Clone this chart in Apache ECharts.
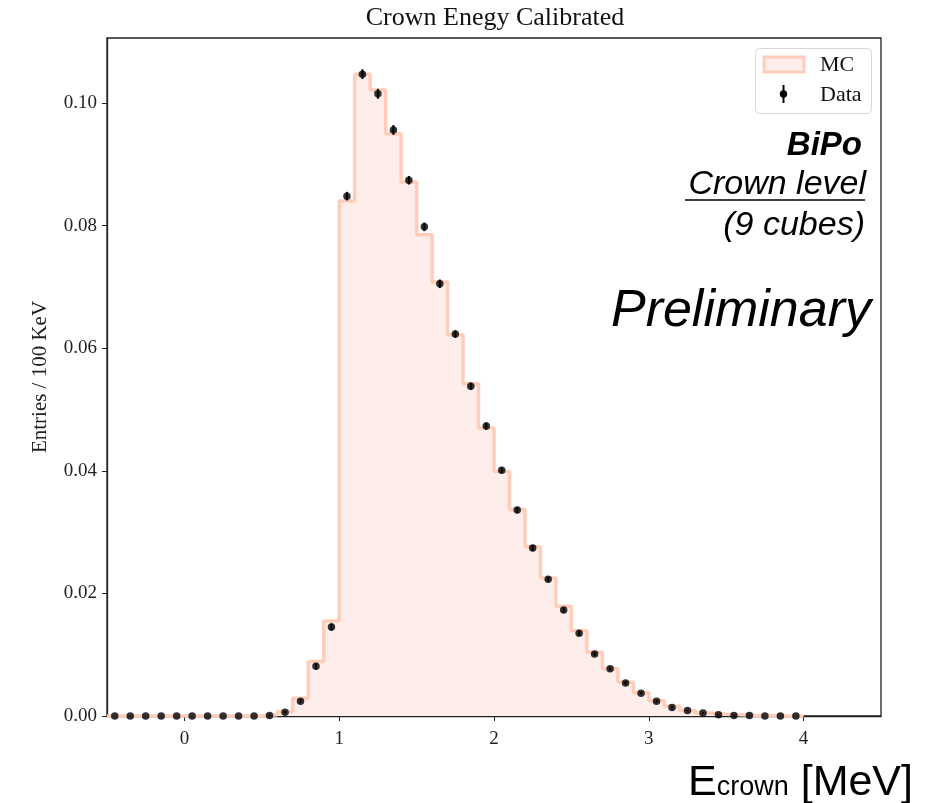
<!DOCTYPE html>
<html>
<head>
<meta charset="utf-8">
<script src="https://cdn.jsdelivr.net/npm/echarts@6/dist/echarts.min.js"></script>
<style>html,body{margin:0;padding:0;background:#fff}#c{width:935px;height:803px}</style>
</head>
<body>
<div id="c"></div>
<script>
// Bin edges (MeV), 45 bins of 0.1 MeV
var binEdges = [-0.5,-0.4,-0.3,-0.2,-0.1,0.0,0.1,0.2,0.3,0.4,0.5,0.6,0.7,0.8,0.9,1.0,1.1,1.2,1.3,1.4,1.5,1.6,1.7,1.8,1.9,2.0,2.1,2.2,2.3,2.4,2.5,2.6,2.7,2.8,2.9,3.0,3.1,3.2,3.3,3.4,3.5,3.6,3.7,3.8,3.9,4.0];
// MC histogram contents (Entries / 100 keV)
var mcValues = [0,0,0,0,0,0,0,0,0,0,
  0.0002,0.0007,0.0029,0.0089,0.0155,0.0840,0.1047,0.1021,0.0950,0.0871,
  0.0785,0.0708,0.0622,0.0542,0.0470,0.0399,0.0337,0.0276,0.0225,0.0179,
  0.0139,0.0104,0.0077,0.0055,0.0038,0.0025,0.0016,0.0009,0.0005,0.0003,
  0.0002,0.0001,0.0001,0,0];
// Data points (bin centres)
var dataValues = [0,0,0,0,0,0,0,0,0,0,
  0.0001,0.0006,0.0024,0.0081,0.0145,0.0848,0.1047,0.1015,0.0956,0.0874,
  0.0798,0.0705,0.0623,0.0538,0.0473,0.0401,0.0336,0.0274,0.0223,0.0173,
  0.0135,0.0101,0.0077,0.0054,0.0037,0.0024,0.0014,0.0009,0.0005,0.0002,
  0.0001,0.0001,0,0,0];
var dataErrors = [0,0,0,0,0,0,0,0,0,0,
  0.0001,0.0002,0.0003,0.0005,0.0006,0.0007,0.0008,0.0008,0.0008,0.0007,
  0.0007,0.0007,0.0006,0.0006,0.0006,0.0005,0.0005,0.0005,0.0004,0.0004,
  0.0004,0.0003,0.0003,0.0003,0.0002,0.0002,0.0002,0.0001,0.0001,0.0001,
  0.0001,0.0001,0,0,0];
var xTicks = [0,1,2,3,4];
var yTicks = [0,0.02,0.04,0.06,0.08,0.10];

var mcLine = [];
for (var i = 0; i < mcValues.length; i++) mcLine.push([binEdges[i], mcValues[i]]);
mcLine.push([binEdges[binEdges.length-1], mcValues[mcValues.length-1]]);
mcLine.push([binEdges[binEdges.length-1], 0]);
var dataPts = [], errPts = [];
for (var j = 0; j < dataValues.length; j++) {
  var cx = (binEdges[j] + binEdges[j+1]) / 2;
  dataPts.push([cx, dataValues[j]]);
  errPts.push([cx, dataValues[j] - dataErrors[j], dataValues[j] + dataErrors[j]]);
}

var serif = '"Liberation Serif", "DejaVu Serif", serif';
var sans = '"Liberation Sans", Arial, sans-serif';
var chart = echarts.init(document.getElementById('c'), null, {renderer: 'canvas'});
chart.setOption({
  animation: false,
  backgroundColor: '#fff',
  grid: {left: 107, right: 54, top: 38, bottom: 87, containLabel: false, outerBoundsMode: 'none',
         show: true, borderColor: '#222', borderWidth: 1.3, backgroundColor: 'transparent'},
  xAxis: {
    type: 'value', min: -0.5, max: 4.5,
    splitLine: {show: false},
    axisLine: {show: true, onZero: false, lineStyle: {color: '#222', width: 1.3}},
    axisTick: {show: true, inside: false, length: 5, customValues: xTicks, lineStyle: {color: '#222'}},
    axisLabel: {customValues: xTicks, margin: 14, color: '#222', fontFamily: serif, fontSize: 19,
                formatter: function (v) { return String(v); }}
  },
  yAxis: {
    type: 'value', min: 0, max: 0.1106,
    name: 'Entries / 100 KeV', nameLocation: 'middle', nameGap: 56, nameRotate: 90,
    nameTextStyle: {fontFamily: serif, fontSize: 21, color: '#222'},
    splitLine: {show: false},
    axisLine: {show: true, onZero: false, lineStyle: {color: '#222', width: 1.3}},
    axisTick: {show: true, inside: false, length: 5, customValues: yTicks, lineStyle: {color: '#222'}},
    axisLabel: {customValues: yTicks, margin: 10, color: '#222', fontFamily: serif, fontSize: 19,
                formatter: function (v) { return v.toFixed(2); }}
  },
  series: [
    {
      type: 'line', name: 'MC', data: mcLine, step: 'end', showSymbol: false, symbol: 'none',
      lineStyle: {color: '#ffcdb9', width: 3.5},
      areaStyle: {color: '#fdeeec', opacity: 1},
      z: 1
    },
    {
      type: 'custom', name: 'err', data: errPts, z: 3,
      renderItem: function (params, api) {
        var lo = api.coord([api.value(0), api.value(1)]);
        var hi = api.coord([api.value(0), api.value(2)]);
        return {type: 'line', shape: {x1: lo[0], y1: lo[1], x2: hi[0], y2: hi[1]},
                style: {stroke: '#000', lineWidth: 2}};
      }
    },
    {
      type: 'scatter', name: 'Data', data: dataPts, symbol: 'circle', symbolSize: 7.5,
      itemStyle: {color: '#000'}, z: 4
    }
  ],
  graphic: [
    {type: 'text', style: {x: 495, y: 18, text: 'Crown Enegy Calibrated',
      font: '26px ' + serif, fill: '#111', textAlign: 'center', textVerticalAlign: 'middle'}},
    // legend box
    {type: 'rect', shape: {x: 755.5, y: 48.5, width: 116, height: 65, r: 4},
      style: {fill: '#fff', stroke: '#d8d8d8', lineWidth: 1}, z: 10},
    {type: 'rect', shape: {x: 764, y: 57, width: 40, height: 15},
      style: {fill: '#fdeeec', stroke: '#ffcdb9', lineWidth: 3}, z: 11},
    {type: 'text', style: {x: 820, y: 65, text: 'MC', font: '22px ' + serif, fill: '#111',
      textVerticalAlign: 'middle'}, z: 11},
    {type: 'line', shape: {x1: 783.5, y1: 85, x2: 783.5, y2: 103}, style: {stroke: '#000', lineWidth: 2}, z: 11},
    {type: 'circle', shape: {cx: 783.5, cy: 94, r: 3.7}, style: {fill: '#000'}, z: 11},
    {type: 'text', style: {x: 820, y: 95, text: 'Data', font: '22px ' + serif, fill: '#111',
      textVerticalAlign: 'middle'}, z: 11},
    // annotations
    {type: 'text', style: {x: 862, y: 146, text: 'BiPo', font: 'italic bold 33px ' + sans, fill: '#000',
      textAlign: 'right', textVerticalAlign: 'middle'}, z: 11},
    {type: 'text', style: {x: 866, y: 185, text: 'Crown level', font: 'italic 34px ' + sans, fill: '#000',
      textAlign: 'right', textVerticalAlign: 'middle'}, z: 11},
    {type: 'line', shape: {x1: 685, y1: 200, x2: 865, y2: 200}, style: {stroke: '#000', lineWidth: 1.3}, z: 11},
    {type: 'text', style: {x: 865, y: 226, text: '(9 cubes)', font: 'italic 34px ' + sans, fill: '#000',
      textAlign: 'right', textVerticalAlign: 'middle'}, z: 11},
    {type: 'text', style: {x: 871, y: 312, text: 'Preliminary', font: 'italic 52px ' + sans, fill: '#000',
      textAlign: 'right', textVerticalAlign: 'middle'}, z: 11},
    // x axis title
    {type: 'text', style: {x: 913, y: 783, text: '{a|E}{b|crown}{a| [MeV]}', textAlign: 'right',
      textVerticalAlign: 'middle',
      rich: {a: {font: '43px ' + sans, fill: '#000', verticalAlign: 'bottom'},
             b: {font: '27px ' + sans, fill: '#000', verticalAlign: 'bottom', padding: [0,0,3,0]}}}, z: 11}
  ]
});
</script>
</body>
</html>
